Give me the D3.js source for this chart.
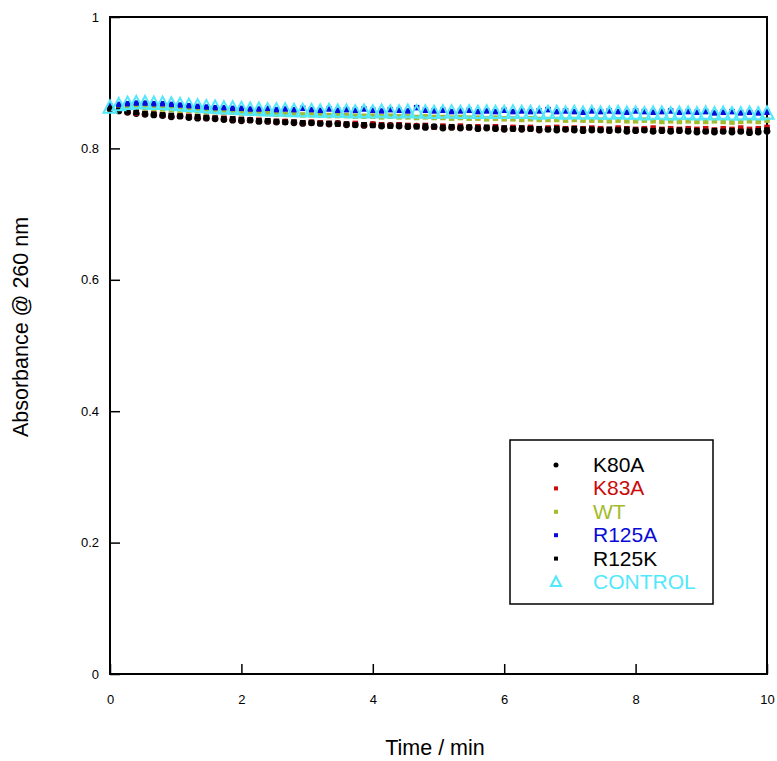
<!DOCTYPE html>
<html>
<head>
<meta charset="utf-8">
<script src="https://cdn.jsdelivr.net/npm/d3@7/dist/d3.min.js"></script>
<style>
  html, body { margin: 0; padding: 0; background: #fff; }
  svg { display: block; font-family: "Liberation Sans", Arial, sans-serif; }
</style>
</head>
<body>
<svg id="chart" width="777" height="761"></svg>
<script>
// sample times in seconds (one reading every 8 s)
const timeSec = [
  0, 8, 16, 24, 32, 40, 48, 56, 64, 72,
  80, 88, 96, 104, 112, 120, 128, 136, 144, 152,
  160, 168, 176, 184, 192, 200, 208, 216, 224, 232,
  240, 248, 256, 264, 272, 280, 288, 296, 304, 312,
  320, 328, 336, 344, 352, 360, 368, 376, 384, 392,
  400, 408, 416, 424, 432, 440, 448, 456, 464, 472,
  480, 488, 496, 504, 512, 520, 528, 536, 544, 552,
  560, 568, 576, 584, 592, 600
];

const k80a = [
  0.860, 0.857, 0.855, 0.853, 0.852, 0.851, 0.850, 0.848, 0.849, 0.847,
  0.846, 0.846, 0.845, 0.844, 0.843, 0.842, 0.843, 0.841, 0.841, 0.840,
  0.840, 0.839, 0.838, 0.839, 0.838, 0.837, 0.838, 0.836, 0.836, 0.835,
  0.836, 0.834, 0.835, 0.834, 0.833, 0.834, 0.832, 0.833, 0.831, 0.832,
  0.831, 0.832, 0.830, 0.831, 0.830, 0.829, 0.830, 0.829, 0.830, 0.828,
  0.829, 0.828, 0.829, 0.828, 0.827, 0.828, 0.828, 0.827, 0.828, 0.826,
  0.827, 0.828, 0.826, 0.827, 0.826, 0.827, 0.826, 0.825, 0.826, 0.825,
  0.826, 0.825, 0.826, 0.824, 0.825, 0.826
];

const k83a = [
  0.861, 0.858, 0.856, 0.854, 0.853, 0.852, 0.851, 0.850, 0.849, 0.849,
  0.848, 0.847, 0.846, 0.846, 0.845, 0.844, 0.843, 0.843, 0.842, 0.841,
  0.841, 0.840, 0.839, 0.840, 0.839, 0.838, 0.838, 0.837, 0.838, 0.836,
  0.837, 0.836, 0.835, 0.836, 0.835, 0.834, 0.835, 0.833, 0.834, 0.833,
  0.834, 0.832, 0.833, 0.832, 0.833, 0.831, 0.832, 0.831, 0.832, 0.830,
  0.831, 0.832, 0.830, 0.831, 0.830, 0.831, 0.830, 0.829, 0.831, 0.830,
  0.829, 0.830, 0.831, 0.829, 0.830, 0.829, 0.830, 0.829, 0.830, 0.828,
  0.830, 0.829, 0.831, 0.829, 0.830, 0.832
];

const wt = [
  0.863, 0.864, 0.864, 0.863, 0.862, 0.861, 0.860, 0.859, 0.858, 0.858,
  0.857, 0.856, 0.856, 0.855, 0.855, 0.854, 0.854, 0.853, 0.853, 0.852,
  0.852, 0.852, 0.851, 0.851, 0.851, 0.850, 0.850, 0.850, 0.849, 0.849,
  0.849, 0.848, 0.849, 0.848, 0.848, 0.847, 0.848, 0.847, 0.847, 0.846,
  0.847, 0.846, 0.846, 0.845, 0.846, 0.845, 0.845, 0.844, 0.845, 0.844,
  0.844, 0.844, 0.843, 0.844, 0.843, 0.843, 0.843, 0.842, 0.843, 0.842,
  0.842, 0.843, 0.842, 0.841, 0.842, 0.841, 0.842, 0.841, 0.841, 0.842,
  0.841, 0.840, 0.841, 0.842, 0.841, 0.843
];

const r125a = [
  0.864, 0.867, 0.868, 0.869, 0.869, 0.868, 0.868, 0.867, 0.866, 0.865,
  0.864, 0.863, 0.862, 0.862, 0.861, 0.861, 0.860, 0.860, 0.861, 0.859,
  0.860, 0.859, 0.861, 0.859, 0.858, 0.860, 0.858, 0.859, 0.858, 0.860,
  0.858, 0.857, 0.859, 0.858, 0.857, 0.862, 0.858, 0.857, 0.858, 0.856,
  0.857, 0.858, 0.856, 0.857, 0.856, 0.858, 0.856, 0.857, 0.856, 0.857,
  0.859, 0.856, 0.857, 0.856, 0.855, 0.857, 0.856, 0.857, 0.856, 0.855,
  0.857, 0.856, 0.855, 0.856, 0.857, 0.855, 0.856, 0.855, 0.856, 0.854,
  0.855, 0.856, 0.854, 0.855, 0.854, 0.855
];

const r125k = [
  0.861, 0.858, 0.856, 0.855, 0.853, 0.852, 0.851, 0.850, 0.849, 0.848,
  0.848, 0.847, 0.846, 0.845, 0.845, 0.844, 0.843, 0.842, 0.842, 0.841,
  0.840, 0.840, 0.839, 0.839, 0.838, 0.838, 0.837, 0.837, 0.836, 0.836,
  0.835, 0.835, 0.834, 0.835, 0.834, 0.833, 0.834, 0.833, 0.832, 0.833,
  0.832, 0.832, 0.831, 0.832, 0.831, 0.831, 0.830, 0.831, 0.830, 0.830,
  0.829, 0.830, 0.829, 0.830, 0.829, 0.829, 0.828, 0.829, 0.828, 0.829,
  0.828, 0.828, 0.827, 0.828, 0.827, 0.828, 0.827, 0.827, 0.826, 0.827,
  0.826, 0.827, 0.826, 0.826, 0.827, 0.828
];

const control = [
  0.862, 0.866, 0.868, 0.869, 0.869, 0.868, 0.868, 0.867, 0.866, 0.865,
  0.864, 0.863, 0.862, 0.861, 0.861, 0.860, 0.859, 0.859, 0.858, 0.858,
  0.858, 0.857, 0.857, 0.857, 0.856, 0.857, 0.856, 0.856, 0.855, 0.856,
  0.855, 0.856, 0.855, 0.855, 0.856, 0.855, 0.855, 0.854, 0.855, 0.855,
  0.854, 0.855, 0.854, 0.855, 0.854, 0.854, 0.855, 0.854, 0.854, 0.853,
  0.854, 0.854, 0.853, 0.854, 0.853, 0.854, 0.853, 0.853, 0.854, 0.853,
  0.853, 0.852, 0.853, 0.853, 0.852, 0.853, 0.853, 0.852, 0.853, 0.852,
  0.853, 0.852, 0.852, 0.853, 0.852, 0.853
];

const xTicks = [0, 2, 4, 6, 8, 10];
const yTicks = [0, 0.2, 0.4, 0.6, 0.8, 1];

const series = [
  { name: 'K80A',    values: k80a,    color: '#000000', shape: 'circle' },
  { name: 'K83A',    values: k83a,    color: '#cc0a0a', shape: 'square' },
  { name: 'WT',      values: wt,      color: '#a3bb2c', shape: 'square' },
  { name: 'R125A',   values: r125a,   color: '#0a0ad8', shape: 'square' },
  { name: 'R125K',   values: r125k,   color: '#000000', shape: 'square' },
  { name: 'CONTROL', values: control, color: '#52e8fc', shape: 'triangle' }
];

const svg = d3.select('#chart');
const margin = { top: 17, right: 10, bottom: 87, left: 110 };
const W = 777, H = 761;

const x = d3.scaleLinear().domain([0, 10]).range([margin.left, W - margin.right]);
const y = d3.scaleLinear().domain([0, 1]).range([H - margin.bottom, margin.top]);

// axes (ticks point inward)
const xAxis = svg.append('g')
  .attr('transform', `translate(0,${y(0)})`)
  .call(d3.axisBottom(x).tickValues(xTicks).tickSize(-10).tickPadding(21).tickFormat(d3.format('d')));
const yAxis = svg.append('g')
  .attr('transform', `translate(${x(0)},0)`)
  .call(d3.axisLeft(y).tickValues(yTicks).tickSize(-10).tickPadding(11).tickFormat(d => d === 0 || d === 1 ? d : d3.format('.1f')(d)));

[xAxis, yAxis].forEach(a => {
  a.select('.domain').remove();
  a.selectAll('.tick line').attr('stroke', '#000').attr('stroke-width', 1.5);
  a.selectAll('.tick text').attr('fill', '#000').style('font-size', '13px');
});

// frame
svg.append('rect')
  .attr('x', x(0)).attr('y', y(1))
  .attr('width', x(10) - x(0)).attr('height', y(0) - y(1))
  .attr('fill', 'none').attr('stroke', '#000').attr('stroke-width', 2);

function drawMarker(g, shape, color, cx, cy, s) {
  if (shape === 'circle') {
    g.append('circle').attr('cx', cx).attr('cy', cy).attr('r', s.r).attr('fill', color);
  } else if (shape === 'square') {
    g.append('rect').attr('x', cx - s.sq / 2).attr('y', cy - s.sq / 2)
      .attr('width', s.sq).attr('height', s.sq).attr('fill', color);
  } else {
    const h = s.tri;
    g.append('path')
      .attr('d', `M${cx},${cy - h * 0.55}L${cx + h * 0.5},${cy + h * 0.4}L${cx - h * 0.5},${cy + h * 0.4}Z`)
      .attr('fill', 'none').attr('stroke', color).attr('stroke-width', 2);
  }
}

const plot = svg.append('g');
const plotSize = { r: 3.4, sq: 5.5, tri: 13 };
series.forEach(s => {
  const g = plot.append('g');
  s.values.forEach((v, i) => drawMarker(g, s.shape, s.color, x(timeSec[i] / 60), y(v), plotSize));
});

// axis titles
svg.append('text')
  .attr('x', 435).attr('y', 755)
  .attr('text-anchor', 'middle').style('font-size', '21.5px').text('Time / min');
svg.append('text')
  .attr('transform', `translate(28,327) rotate(-90)`)
  .attr('text-anchor', 'middle').style('font-size', '21.5px').text('Absorbance @ 260 nm');

// legend
const legend = svg.append('g');
legend.append('rect')
  .attr('x', 510).attr('y', 440).attr('width', 203).attr('height', 164)
  .attr('fill', '#fff').attr('stroke', '#000').attr('stroke-width', 1.5);
const legSize = { r: 2.5, sq: 4, tri: 10 };
series.forEach((s, i) => {
  const cy = 465 + i * 23.4;
  drawMarker(legend, s.shape, s.color, 556, cy, legSize);
  legend.append('text')
    .attr('x', 593).attr('y', cy + 7)
    .attr('fill', s.color).style('font-size', '21px').text(s.name);
});
</script>
</body>
</html>
